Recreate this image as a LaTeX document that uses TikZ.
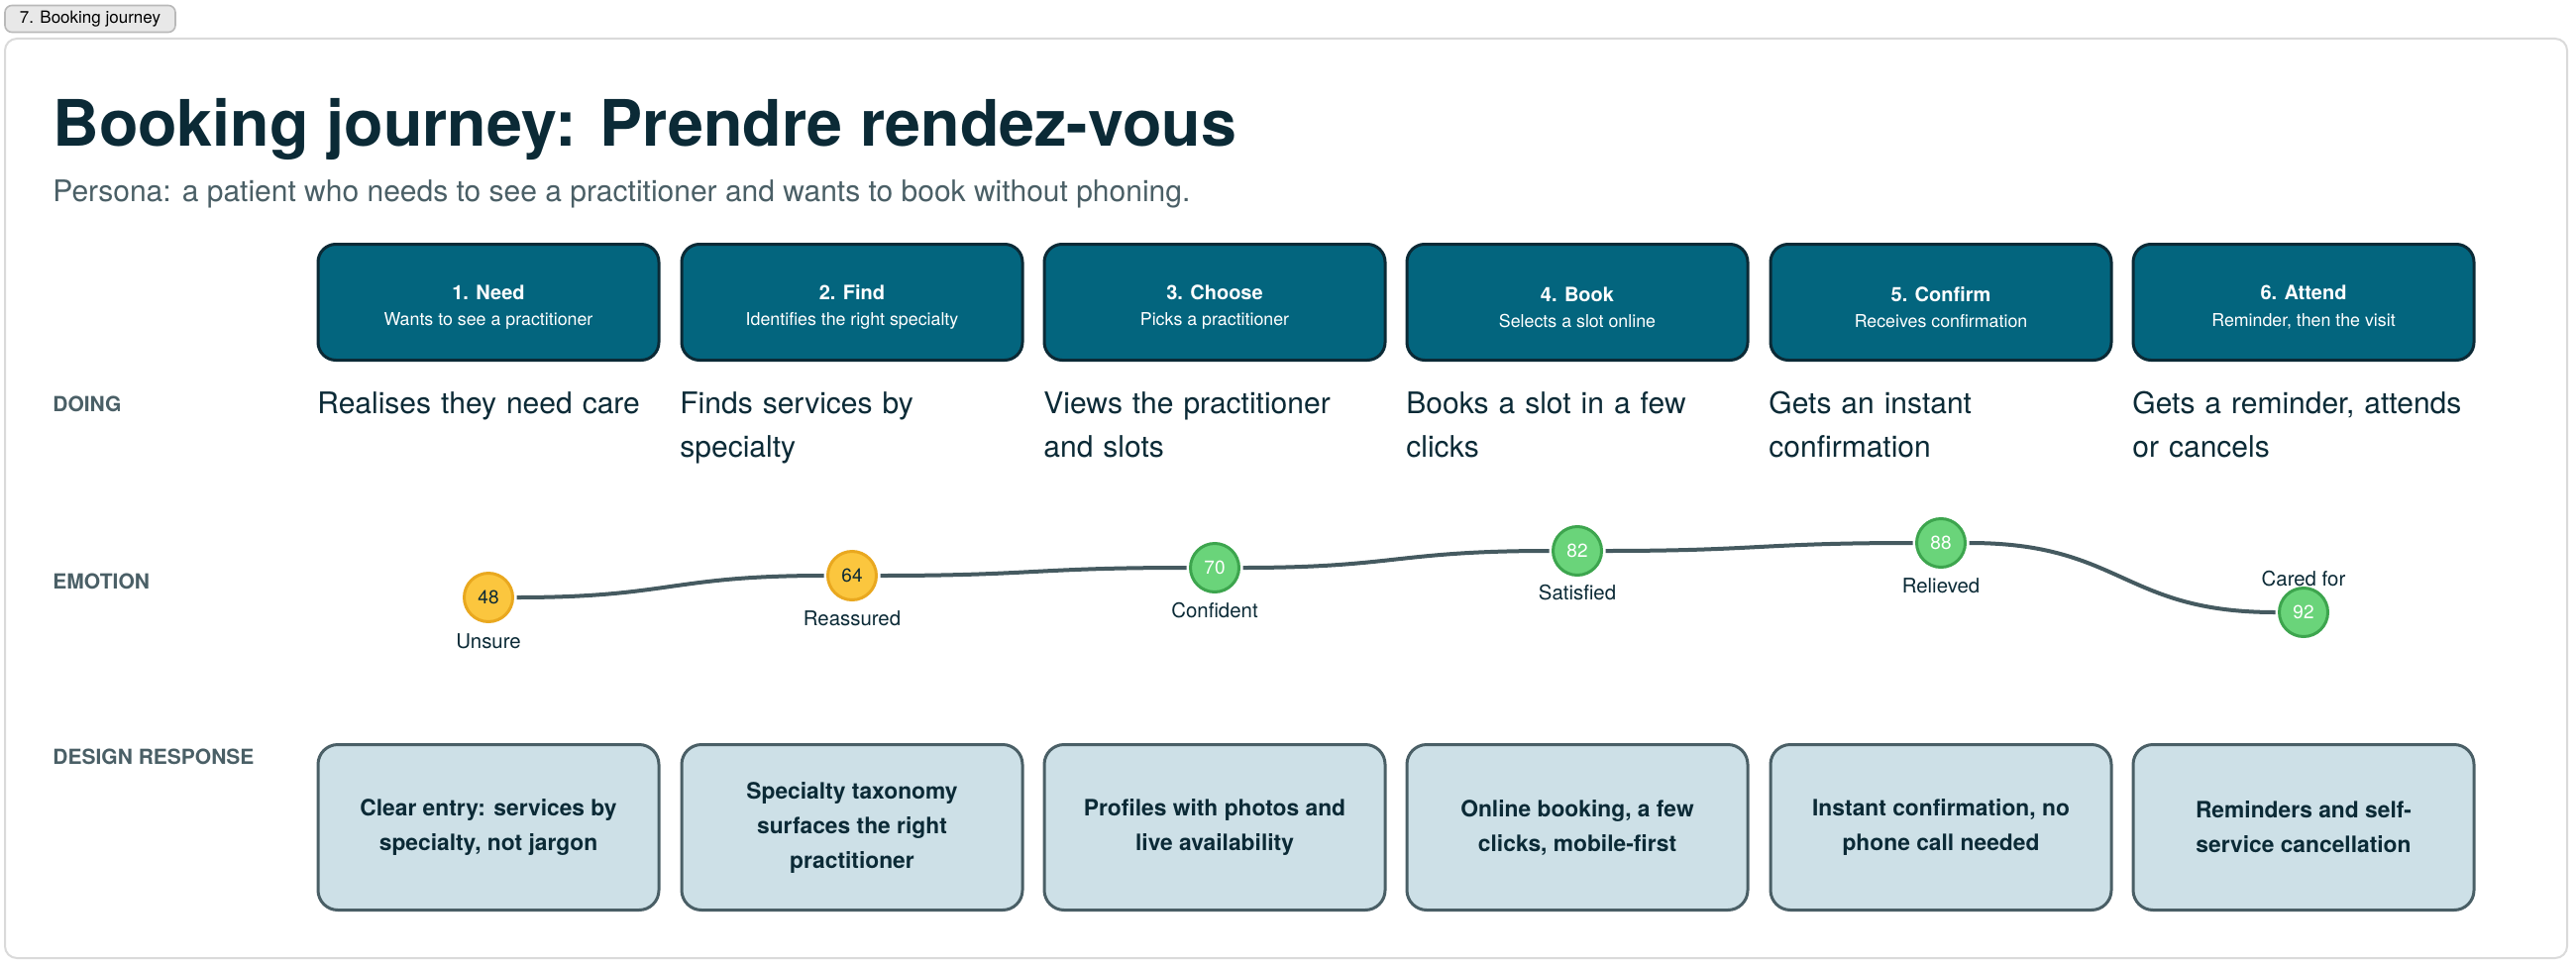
\documentclass[tikz,border=0pt]{standalone}
\usepackage{fontspec}
\setmainfont{TeX Gyre Heros}
\usepackage{tikz}
\usetikzlibrary{calc}
\definecolor{ncol}{HTML}{0B2A36}
\definecolor{tcol}{HTML}{03657E}
\definecolor{scol}{HTML}{4A5F66}
\definecolor{pcol}{HTML}{CDE0E7}
\definecolor{ycol}{HTML}{FBC63E}
\definecolor{yedge}{HTML}{E9A81F}
\definecolor{gcol}{HTML}{6AD47A}
\definecolor{gedge}{HTML}{3DA54E}
\definecolor{lcol}{HTML}{455A60}
\definecolor{kcol}{HTML}{DADADA}
\newcommand{\fs}[2]{\fontsize{#1}{#2}\selectfont}

\begin{document}
\begin{tikzpicture}[x=0.5pt, y=-0.5pt,
  stage/.style={draw=ncol, line width=1.5pt, fill=tcol, rounded corners=9pt,
    minimum width=172pt, minimum height=58.5pt, text=white, align=center, font=\fs{10}{13.3}},
  design/.style={draw=scol, line width=1.5pt, fill=pcol, rounded corners=10pt,
    minimum width=172pt, minimum height=83.5pt, text=ncol, align=center, font=\fs{11.4}{17.5}\bfseries},
  doing/.style={anchor=base west, text=ncol, align=left, text width=180pt, inner sep=0pt, font=\fs{15}{22}},
  rowlab/.style={anchor=west, text=scol, inner sep=0pt, font=\fs{10.5}{12}\bfseries},
  emo/.style={circle, line width=1.5pt, minimum size=24.5pt, inner sep=0pt, outer sep=2pt, font=\fs{9.5}{10}},
  low/.style={emo, fill=ycol, draw=yedge, text=ncol},
  high/.style={emo, fill=gcol, draw=gedge, text=white},
  feel/.style={anchor=base, text=ncol, inner sep=0pt, font=\fs{10.2}{11}},
]
\useasboundingbox (0,0) rectangle (2600,974);
% frame and tab
\draw[kcol, fill=white, line width=1pt, rounded corners=6pt] (5,39) rectangle (2591,967);
\node[draw=kcol!85!black, fill=black!9, rounded corners=3.5pt, line width=0.8pt,
  minimum width=86pt, minimum height=13.5pt, inner sep=0pt, font=\fs{8.5}{10}] (tab) at (91,19) {7. Booking journey};

\node[anchor=base west, inner sep=0pt, text=ncol, font=\fs{32.3}{38}\bfseries] (title) at (53,148)
  {Booking journey: Prendre rendez-vous};
\node[anchor=base west, inner sep=0pt, text=scol, font=\fs{15}{18}] (persona) at (53,203)
  {Persona: a patient who needs to see a practitioner and wants to book without phoning.};

\node[rowlab] (rdoing) at (53,408) {DOING};
\node[rowlab] (remo) at (53,587) {EMOTION};
\node[rowlab] (rdesign) at (53,764) {DESIGN RESPONSE};

% stages
\node[stage] (s1) at (493,305) {\rule{0pt}{12.5pt}\textbf{1. Need}\\{\fs{8.9}{13.3}Wants to see a practitioner}};
\node[stage] (s2) at (860,305) {\rule{0pt}{12.5pt}\textbf{2. Find}\\{\fs{8.9}{13.3}Identifies the right specialty}};
\node[stage] (s3) at (1226,305) {\rule{0pt}{12.5pt}\textbf{3. Choose}\\{\fs{8.9}{13.3}Picks a practitioner}};
\node[stage] (s4) at (1592,305) {\rule{0pt}{12.5pt}\textbf{4. Book}\\{\fs{8.9}{13.3}Selects a slot online}};
\node[stage] (s5) at (1959,305) {\rule{0pt}{12.5pt}\textbf{5. Confirm}\\{\fs{8.9}{13.3}Receives confirmation}};
\node[stage] (s6) at (2325,305) {\rule{0pt}{12.5pt}\textbf{6. Attend}\\{\fs{8.9}{13.3}Reminder, then the visit}};

% doing
\node[doing] (d1) at (320,417) {Realises they need care};
\node[doing] (d2) at (686,417) {Finds services by\\specialty};
\node[doing] (d3) at (1053,417) {Views the practitioner\\and slots};
\node[doing] (d4) at (1419,417) {Books a slot in a few\\clicks};
\node[doing] (d5) at (1785,417) {Gets an instant\\confirmation};
\node[doing] (d6) at (2152,417) {Gets a reminder, attends\\or cancels};

% emotion curve
\node[low] (c1) at (493,603) {48};
\node[low] (c2) at (860,581) {64};
\node[high] (c3) at (1226,573) {70};
\node[high] (c4) at (1592,556) {82};
\node[high] (c5) at (1959,548) {88};
\node[high] (c6) at (2325,618) {92};
\draw[lcol, line width=2pt] (c1) .. controls +(183,0) and +(-183,0) .. (c2);
\draw[lcol, line width=2pt] (c2) .. controls +(183,0) and +(-183,0) .. (c3);
\draw[lcol, line width=2pt] (c3) .. controls +(183,0) and +(-183,0) .. (c4);
\draw[lcol, line width=2pt] (c4) .. controls +(183,0) and +(-183,0) .. (c5);
\draw[lcol, line width=2pt] (c5) .. controls +(183,0) and +(-183,0) .. (c6);
\node[feel] (f1) at (493,654) {Unsure};
\node[feel] (f2) at (860,631) {Reassured};
\node[feel] (f3) at (1226,623) {Confident};
\node[feel] (f4) at (1592,605) {Satisfied};
\node[feel] (f5) at (1959,598) {Relieved};
\node[feel] (f6) at (2325,591) {Cared for};

% design response
\node[design] (r1) at (493,835) {Clear entry: services by\\specialty, not jargon};
\node[design] (r2) at (860,835) {Specialty taxonomy\\surfaces the right\\practitioner};
\node[design] (r3) at (1226,835) {Profiles with photos and\\live availability};
\node[design] (r4) at (1592,835) {Online booking, a few\\clicks, mobile-first};
\node[design] (r5) at (1959,835) {Instant confirmation, no\\phone call needed};
\node[design] (r6) at (2325,835) {Reminders and self-\\service cancellation};
\end{tikzpicture}
\end{document}
